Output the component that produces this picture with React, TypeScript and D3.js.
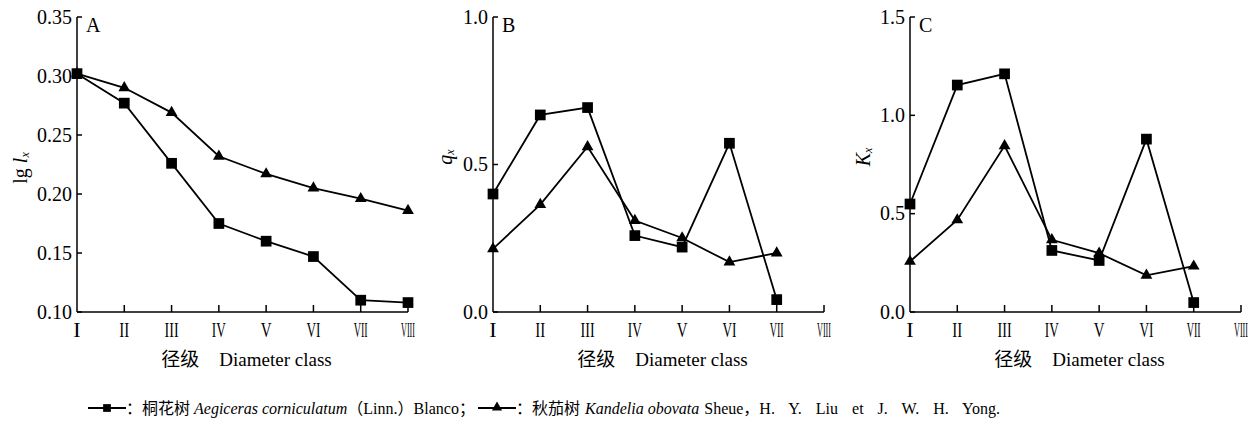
import React from "react";
import * as d3 from "d3";

const classes = ["I", "II", "III", "IV", "V", "VI", "VII", "VIII"];

const lgLxSquare = [0.302, 0.277, 0.226, 0.175, 0.160, 0.147, 0.110, 0.108];
const lgLxTriangle = [0.302, 0.290, 0.269, 0.232, 0.217, 0.205, 0.196, 0.186];
const qxSquare = [0.400, 0.668, 0.693, 0.259, 0.220, 0.572, 0.042];
const qxTriangle = [0.214, 0.364, 0.560, 0.310, 0.251, 0.169, 0.200];
const kxSquare = [0.549, 1.154, 1.211, 0.313, 0.262, 0.879, 0.048];
const kxTriangle = [0.257, 0.468, 0.845, 0.367, 0.299, 0.186, 0.233];

const ticksA = [0.10, 0.15, 0.20, 0.25, 0.30, 0.35];
const ticksB = [0.0, 0.5, 1.0];
const ticksC = [0.0, 0.5, 1.0, 1.5];

const SERIF = "'Liberation Serif', serif";
const CJK = "'Noto Sans CJK SC', sans-serif";

type Panel = {
  left: number;
  domain: [number, number];
  ticks: number[];
  digits: number;
  letter: string;
  yLabel: string;
  square: number[];
  triangle: number[];
};

const panels: Panel[] = [
  { left: 77, domain: [0.10, 0.35], ticks: ticksA, digits: 2, letter: "A", yLabel: "lg", square: lgLxSquare, triangle: lgLxTriangle },
  { left: 493, domain: [0, 1.0], ticks: ticksB, digits: 1, letter: "B", yLabel: "q", square: qxSquare, triangle: qxTriangle },
  { left: 910, domain: [0, 1.5], ticks: ticksC, digits: 1, letter: "C", yLabel: "K", square: kxSquare, triangle: kxTriangle },
];

const TOP = 17;
const BOTTOM = 312;
const WIDTH = 331;

const sqPath = d3.symbol(d3.symbolSquare, 115)() as string;
const triPath = d3.symbol(d3.symbolTriangle, 60)() as string;
const sqLegend = d3.symbol(d3.symbolSquare, 60)() as string;
const triLegend = d3.symbol(d3.symbolTriangle, 45)() as string;

// horizontal squeeze factor for condensed roman numerals
function romanScale(s: string) {
  let w = 0;
  for (const c of s) w += c === "V" ? 0.722 : 0.333;
  w *= 22;
  if (s === "I") return 1;
  return Math.min(w * 0.68, 14) / w;
}

function PanelView({ p }: { p: Panel }) {
  const x = d3.scalePoint<string>().domain(classes).range([p.left, p.left + WIDTH]).padding(0);
  const y = d3.scaleLinear().domain(p.domain).range([BOTTOM, TOP]);
  const line = d3
    .line<number>()
    .x((_, i) => x(classes[i]) as number)
    .y((d) => y(d));
  const mid = p.left + WIDTH / 2 + 4;

  let yLab: React.ReactNode;
  if (p.letter === "A") {
    yLab = (
      <text transform={`translate(20,168) rotate(-90)`} textAnchor="middle" fontFamily={SERIF} fontSize={20} dominantBaseline="central">
        <tspan>lg </tspan>
        <tspan fontStyle="italic">l</tspan>
        <tspan fontStyle="italic" fontSize={12} dy={5}>x</tspan>
      </text>
    );
  } else {
    const cx = p.letter === "B" ? 445 : 863;
    yLab = (
      <text transform={`translate(${cx},157) rotate(-90)`} textAnchor="middle" fontFamily={SERIF} fontSize={20} dominantBaseline="central">
        <tspan fontStyle="italic">{p.yLabel}</tspan>
        <tspan fontStyle="italic" fontSize={12} dy={5}>x</tspan>
      </text>
    );
  }

  return (
    <g>
      <line x1={p.left} x2={p.left} y1={TOP} y2={BOTTOM} stroke="#000" strokeWidth={1.5} />
      <line x1={p.left} x2={p.left + WIDTH} y1={BOTTOM} y2={BOTTOM} stroke="#000" strokeWidth={1.5} />
      {p.ticks.map((t) => (
        <g key={t}>
          <line x1={p.left} x2={p.left + 5} y1={y(t)} y2={y(t)} stroke="#000" strokeWidth={1.5} />
          <text x={p.left - 5} y={y(t) + 6.6} textAnchor="end" fontFamily={SERIF} fontSize={20}>
            {t.toFixed(p.digits)}
          </text>
        </g>
      ))}
      {classes.map((c, i) => {
        const cx = x(c) as number;
        return (
          <g key={c}>
            {i > 0 && <line x1={cx} x2={cx} y1={BOTTOM} y2={BOTTOM - 7} stroke="#000" strokeWidth={1.5} />}
            <text
              transform={`translate(${cx},337) scale(${romanScale(c)},1)`}
              textAnchor="middle"
              fontFamily={SERIF}
              fontSize={22}
            >
              {c}
            </text>
          </g>
        );
      })}
      <text x={mid} y={366} textAnchor="middle" fontSize={19}>
        <tspan fontFamily={CJK}>径级</tspan>
        <tspan fontFamily={SERIF} dx={20}>Diameter class</tspan>
      </text>
      {yLab}
      <text x={p.left + 9} y={32} fontFamily={SERIF} fontSize={20}>
        {p.letter}
      </text>
      <path d={line(p.triangle) as string} fill="none" stroke="#000" strokeWidth={1.8} />
      <path d={line(p.square) as string} fill="none" stroke="#000" strokeWidth={1.8} />
      {p.triangle.map((v, i) => (
        <path key={"t" + i} d={triPath} transform={`translate(${x(classes[i])},${y(v)})`} fill="#000" />
      ))}
      {p.square.map((v, i) => (
        <path key={"s" + i} d={sqPath} transform={`translate(${x(classes[i])},${y(v)})`} fill="#000" />
      ))}
    </g>
  );
}

function Legend() {
  const ly = 408;
  const fs = 16;
  return (
    <g fontSize={fs}>
      <line x1={88} x2={126} y1={ly} y2={ly} stroke="#000" strokeWidth={1.8} />
      <path d={sqLegend} transform={`translate(107,${ly})`} fill="#000" />
      <text x={126} y={ly + 5.5}>
        <tspan fontFamily={CJK}>：桐花树</tspan>
        <tspan fontFamily={SERIF} fontStyle="italic" dx={4}>Aegiceras corniculatum</tspan>
        <tspan fontFamily={CJK}>（</tspan>
        <tspan fontFamily={SERIF}>Linn.</tspan>
        <tspan fontFamily={CJK}>）</tspan>
        <tspan fontFamily={SERIF}>Blanco</tspan>
        <tspan fontFamily={CJK}>；</tspan>
      </text>
      <line x1={478} x2={516} y1={ly} y2={ly} stroke="#000" strokeWidth={1.8} />
      <path d={triLegend} transform={`translate(497,${ly - 0.5})`} fill="#000" />
      <text x={516} y={ly + 5.5}>
        <tspan fontFamily={CJK}>：秋茄树</tspan>
        <tspan fontFamily={SERIF} fontStyle="italic" dx={5}>Kandelia obovata</tspan>
        <tspan fontFamily={SERIF} dx={5}>Sheue</tspan>
        <tspan fontFamily={CJK}>，</tspan>
        <tspan fontFamily={SERIF} wordSpacing={10}>H. Y. Liu et J. W. H. Yong.</tspan>
      </text>
    </g>
  );
}

export default function App() {
  return (
    <svg width={1256} height={426} style={{ position: "absolute", left: 0, top: 0, background: "#fff" }}>
      <rect width={1256} height={426} fill="#fff" />
      {panels.map((p) => (
        <PanelView key={p.letter} p={p} />
      ))}
      <Legend />
    </svg>
  );
}
